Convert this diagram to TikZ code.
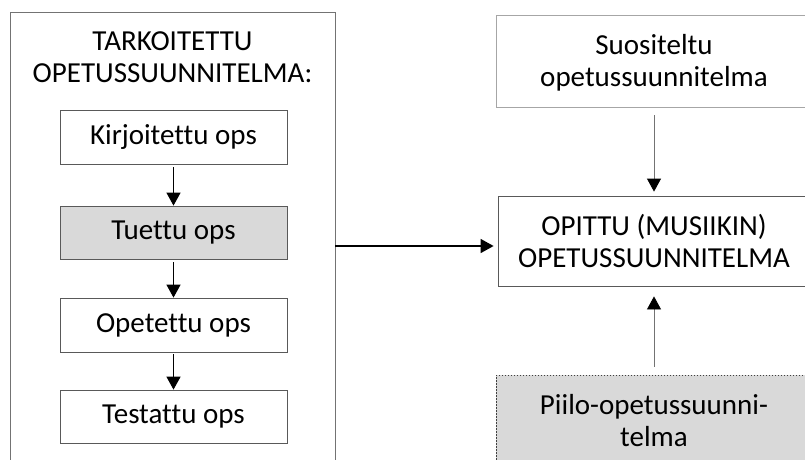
\documentclass[tikz,border=0pt]{standalone}
\usepackage{fontspec}
\setmainfont{Carlito}[RawFeature=-liga]
\usetikzlibrary{arrows.meta}
\begin{document}
\begin{tikzpicture}[x=1pt,y=-1pt,
  txt/.style={align=center, inner sep=0pt, font=\fontsize{29}{32}\selectfont},
  box/.style={txt, draw=black!65, line width=0.8pt},
  graybox/.style={box, fill=black!15},
  arr/.style={line width=1.4pt, -{Triangle[width=14pt,length=13pt]}},
  thinarr/.style={draw=black!55, line width=0.8pt, -{Triangle[width=14pt,length=13pt,color=black,fill=black]}}]
\useasboundingbox (0,0) rectangle (805,459);
\clip (0,0) rectangle (805,459);
% left frame
\node[box, draw=black!55, minimum width=325pt, minimum height=463pt] (tark) at (172.5,243.5) {};
\node[txt] (title) at (172.5,57) {TARKOITETTU\\OPETUSSUUNNITELMA:};
\node[box, minimum width=227pt, minimum height=54pt] (kir) at (173.5,137) {Kirjoitettu ops};
\node[graybox, minimum width=227pt, minimum height=53pt] (tue) at (173.5,232.5) {Tuettu ops};
\node[box, minimum width=227pt, minimum height=54pt] (ope) at (173.5,325) {Opetettu ops};
\node[box, minimum width=227pt, minimum height=53pt] (tes) at (173.5,416.5) {Testattu ops};
\draw[arr, shorten <=3pt] (kir.south) -- (tue.north);
\draw[arr, shorten <=3pt] (tue.south) -- (ope.north);
\draw[arr, shorten <=2pt] (ope.south) -- (tes.north);
% right column
\node[box, draw=black!35, minimum width=314pt, minimum height=92pt] (suo) at (653,61) {};
\node[txt] (suotxt) at (654,63) {Suositeltu\\opetussuunnitelma};
\node[box, minimum width=312pt, minimum height=90pt] (opi) at (654,241) {OPITTU (MUSIIKIN)\\OPETUSSUUNNITELMA};
\node[graybox, draw=black!75, dash pattern=on 1.5pt off 1.5pt, minimum width=314pt, minimum height=105pt] (pii) at (653,427.5) {};
\node[txt] (piitxt) at (654,421) {Piilo-opetussuunni-\\telma};
% connectors
\draw[arr, shorten >=4pt] (tark.east |- 0,246) -- (opi.west |- 0,246);
\draw[thinarr, shorten <=8pt, shorten >=4pt] (suo.south -| opi.center) -- (opi.north);
\draw[thinarr, shorten <=8pt, shorten >=10pt] (pii.north -| opi.center) -- (opi.south);
\end{tikzpicture}
\end{document}
